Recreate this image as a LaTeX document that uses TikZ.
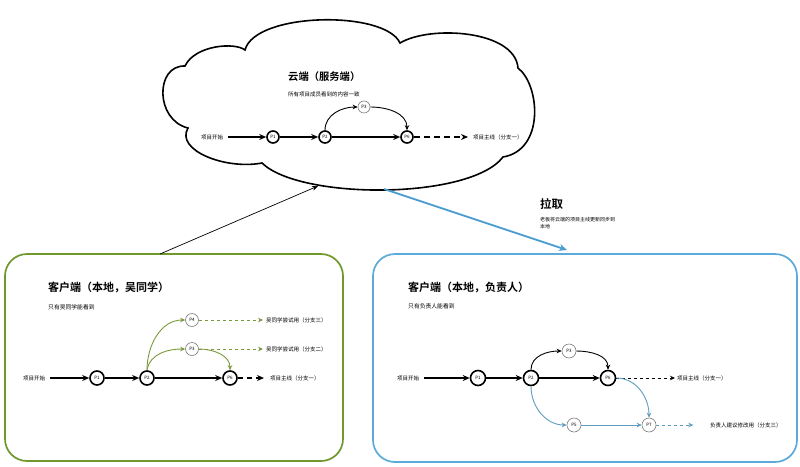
\documentclass[tikz,border=0pt]{standalone}
\usepackage{fontspec}
\setmainfont{Noto Sans CJK SC}[BoldFont={Noto Sans CJK SC Bold}]
\usetikzlibrary{arrows.meta}
\definecolor{grn}{RGB}{112,152,44}
\definecolor{garrow}{RGB}{122,154,60}
\definecolor{bbox}{RGB}{92,170,218}
\definecolor{barrow}{RGB}{74,156,210}
\definecolor{tealc}{RGB}{96,156,190}
\definecolor{gcirc}{RGB}{125,125,125}
\tikzset{
  mainln/.style={line width=1.6pt,-{Stealth[length=7pt,width=6pt]}},
  thinln/.style={line width=0.9pt,-{Stealth[length=5pt,width=4.5pt]}},
  pbig/.style={circle,draw,line width=1.6pt,minimum size=13pt,inner sep=0pt,fill=white,font=\fontsize{4.5}{5}\selectfont},
  psmall/.style={circle,draw=gcirc,line width=0.6pt,minimum size=12pt,inner sep=0pt,fill=white,font=\fontsize{4.5}{5}\selectfont},
  lbl/.style={font=\fontsize{5.5}{6.5}\selectfont,inner sep=0pt,anchor=west,align=left},
  ttl/.style={font=\bfseries\fontsize{11}{12}\selectfont,inner sep=0pt,anchor=west},
  boxst/.style={draw=#1,line width=1.7pt,rounded corners=22pt,inner sep=0pt},
}
\begin{document}
\begin{tikzpicture}[x=1pt,y=-1pt]
\useasboundingbox[fill=white] (0,0) rectangle (800,466);
% ---------------- cloud ----------------
\draw[line width=1.6pt,fill=white] (245,50) .. controls (255,12) and (385,10) .. (400,43)
  .. controls (430,25) and (515,30) .. (518,68)
  .. controls (540,85) and (545,150) .. (503,157)
  .. controls (470,200) and (300,200) .. (262,163)
  .. controls (225,170) and (175,150) .. (188,128)
  .. controls (155,120) and (155,65) .. (185,66)
  .. controls (195,45) and (235,42) .. (245,50) -- cycle;
\node[ttl,font=\bfseries\fontsize{10.3}{11}\selectfont] (ctitle) at (288,77) {云端（服务端）};
\node[lbl] (csub) at (288,94) {所有项目成员看到的内容一致};
\node[lbl] (cstart) at (201,137) {项目开始};
\node[pbig,minimum size=12pt] (cP1) at (273,137) {P1};
\node[pbig,minimum size=12pt] (cP2) at (325,137) {P2};
\node[pbig,minimum size=12pt] (cP6) at (407,137) {P6};
\node[psmall] (cP3) at (364,107) {P3};
\node[lbl] (cmain) at (473,137) {项目主线（分支一）};
\draw[mainln,shorten <=5pt] (cstart.east) -- (cP1);
\draw[mainln] (cP1) -- (cP2);
\draw[mainln] (cP2) -- (cP6);
\draw[thinln] (cP2.north) to[out=90,in=180] (cP3.west);
\draw[thinln] (cP3.east) to[out=0,in=90] (cP6.north);
\draw[mainln,dash pattern=on 6pt off 4pt,shorten >=5pt] (cP6) -- (cmain.west);
\coordinate (cloudbl) at (318,186);
\coordinate (cloudbot) at (384,189);
% ---------------- pull ----------------
\node[ttl,font=\bfseries\fontsize{11.5}{12}\selectfont] (pull) at (540,204) {拉取};
\node[lbl,font=\fontsize{5}{7.5}\selectfont] (pullsub) at (540,223) {老板将云端的项目主线更新同步到\\本地};
\coordinate (pullend) at (567,250);
\draw[barrow,line width=1.8pt,-{Stealth[length=8pt,width=7pt]}] (cloudbot) -- (pullend);
% ---------------- left box ----------------
\node[boxst=grn,minimum width=338pt,minimum height=207pt] (lbox) at (174,357.5) {};
\coordinate (lboxtop) at (160,254);
\draw[line width=0.7pt,-{Stealth[length=6pt,width=5pt]}] (lboxtop) -- (cloudbl);
\node[ttl] (ltitle) at (48,288) {客户端（本地，吴同学）};
\node[lbl,font=\fontsize{5.8}{6.5}\selectfont] (lsub) at (48,307) {只有吴同学能看到};
\node[lbl] (lstart) at (23,378) {项目开始};
\node[pbig,minimum size=14pt] (lP1) at (97,378) {P1};
\node[pbig,minimum size=14pt] (lP2) at (147,378) {P2};
\node[pbig,minimum size=14pt] (lP6) at (230,378) {P6};
\node[psmall,minimum size=13pt] (lP4) at (192,320) {P4};
\node[psmall,minimum size=13pt] (lP3) at (192,349) {P3};
\node[lbl] (lmain) at (270,378) {项目主线（分支一）};
\node[lbl] (lb3) at (266,320) {吴同学尝试用（分支三）};
\node[lbl] (lb2) at (266,349) {吴同学尝试用（分支二）};
\draw[mainln,shorten <=5pt] (lstart.east) -- (lP1);
\draw[mainln] (lP1) -- (lP2);
\draw[mainln] (lP2) -- (lP6);
\draw[mainln,dash pattern=on 5pt off 4pt,shorten >=6pt] (lP6) -- (lmain.west);
\draw[thinln,garrow] (lP2.north) to[out=90,in=180] (lP4.west);
\draw[thinln,garrow] (lP2.north) to[out=80,in=180] (lP3.west);
\draw[thinln,garrow] (lP3.east) to[out=0,in=90] (lP6.north);
\draw[thinln,garrow,dash pattern=on 3pt off 3pt,shorten >=3pt] (lP4) -- (lb3.west);
\draw[thinln,garrow,dash pattern=on 3pt off 3pt,shorten >=3pt] (lP3) -- (lb2.west);
% ---------------- right box ----------------
\node[boxst=bbox,minimum width=424pt,minimum height=208pt] (rbox) at (585,358) {};
\node[ttl] (rtitle) at (408,288) {客户端（本地，负责人）};
\node[lbl,font=\fontsize{5.8}{6.5}\selectfont] (rsub) at (408,306) {只有负责人能看到};
\node[lbl] (rstart) at (397,378) {项目开始};
\node[pbig,minimum size=15pt] (rP1) at (478,378) {P1};
\node[pbig,minimum size=15pt] (rP2) at (531,378) {P2};
\node[pbig,minimum size=15pt] (rP6) at (608,378) {P6};
\node[psmall,minimum size=14pt] (rP3) at (569,351) {P3};
\node[psmall,minimum size=14pt] (rP5) at (574,425) {P5};
\node[psmall,minimum size=14pt] (rP7) at (649,425) {P7};
\node[lbl] (rmain) at (677,378) {项目主线（分支一）};
\node[lbl] (rb3) at (710,425) {负责人建议修改用（分支三）};
\draw[mainln,shorten <=5pt] (rstart.east) -- (rP1);
\draw[mainln] (rP1) -- (rP2);
\draw[mainln] (rP2) -- (rP6);
\draw[thinln] (rP2.north) to[out=90,in=180] (rP3.west);
\draw[thinln] (rP3.east) to[out=0,in=90] (rP6.north);
\draw[thinln,dash pattern=on 3pt off 3pt,shorten >=2pt] (rP6) -- (rmain.west);
\draw[thinln,tealc] (rP2.south) to[out=-90,in=180] (rP5.west);
\draw[thinln,tealc] (rP5) -- (rP7);
\draw[thinln,tealc] (rP6.east) to[out=0,in=90] (rP7.north);
\draw[thinln,tealc,dash pattern=on 3pt off 3pt] (rP7.east) -- ++(37,0) coordinate (r7end);
\end{tikzpicture}
\end{document}
